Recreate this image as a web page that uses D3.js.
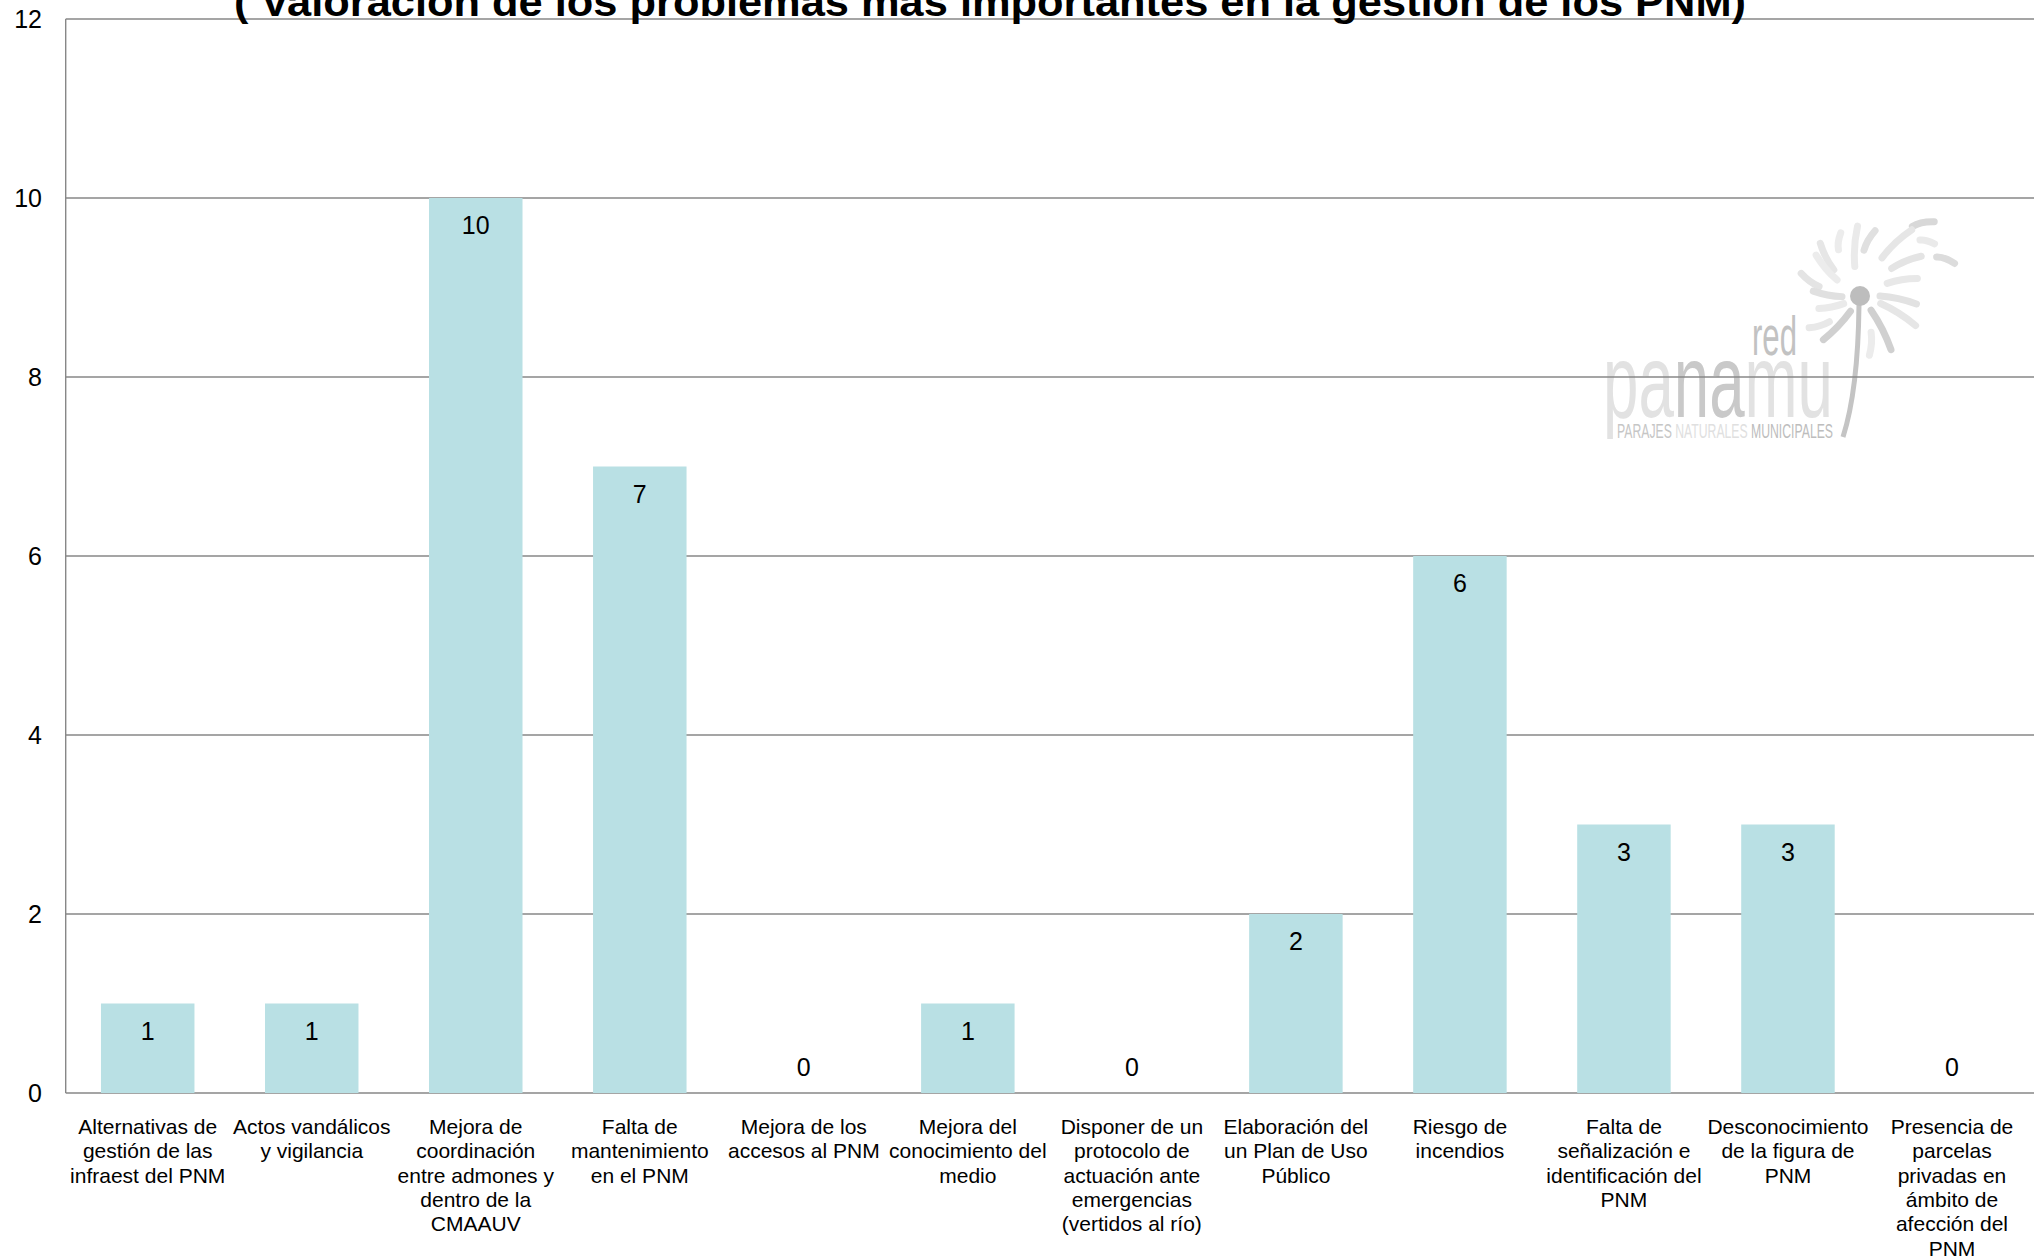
<!DOCTYPE html>
<html>
<head>
  <meta charset="utf-8">
  <script src="https://cdn.jsdelivr.net/npm/d3@7"></script>
  <style>
    body { margin: 0; background: #fff; }
    text { font-family: "Liberation Sans", Arial, sans-serif; }
  </style>
</head>
<body>
<script>
// chart values
var categories = [
  ["Alternativas de", "gestión de las", "infraest del PNM"],
  ["Actos vandálicos", "y vigilancia"],
  ["Mejora de", "coordinación", "entre admones y", "dentro de la", "CMAAUV"],
  ["Falta de", "mantenimiento", "en el PNM"],
  ["Mejora de los", "accesos al PNM"],
  ["Mejora del", "conocimiento del", "medio"],
  ["Disponer de un", "protocolo de", "actuación ante", "emergencias", "(vertidos al río)"],
  ["Elaboración del", "un Plan de Uso", "Público"],
  ["Riesgo de", "incendios"],
  ["Falta de", "señalización e", "identificación del", "PNM"],
  ["Desconocimiento", "de la figura de", "PNM"],
  ["Presencia de", "parcelas", "privadas en", "ámbito de", "afección del", "PNM"]
];
var values = [1, 1, 10, 7, 0, 1, 0, 2, 6, 3, 3, 0];
var yTicks = [0, 2, 4, 6, 8, 10, 12];
var title = "( Valoración de los problemas más importantes en la gestión de los PNM)";

var W = 2038, H = 1260;
var plotL = 65.7, plotR = 2034, plotT = 19, plotB = 1093;

var svg = d3.select("body").append("svg")
  .attr("width", W).attr("height", H);

var x = d3.scaleBand()
  .domain(d3.range(categories.length))
  .range([plotL, plotR])
  .paddingInner(0.43)
  .paddingOuter(0.215);

var y = d3.scaleLinear().domain([0, 12]).range([plotB, plotT]);

// watermark logo (red panamu)
var logo = svg.append("g").attr("class", "logo");
var cx = 1860, cy = 296;
// rays: angle (deg), inner r, outer r, shade
var rays = [
  [-53, 87, 105, "#d8d8d8"], [-60, 44, 84, "#e6e6e6"], [-85, 46, 67, "#e0e0e0"],
  [-100, 30, 70, "#eaeaea"], [-115, 51, 66, "#ececec"], [-27, 86, 100, "#dcdcdc"],
  [-43, 82, 91, "#eaeaea"], [-41, 42, 73, "#e4e4e4"], [-25, 30, 60, "#e8e8e8"],
  [0, 20, 57, "#e2e2e2"], [20, 22, 63, "#e6e6e6"], [52, 18, 62, "#d0d0d0"],
  [73, 38, 60, "#ececec"], [-135, 37, 66, "#e6e6e6"], [-145, 28, 60, "#ececec"],
  [-167, 42, 63, "#e4e4e4"], [178, 18, 47, "#e0e0e0"], [155, 18, 43, "#eaeaea"],
  [140, 40, 60, "#e8e8e8"], [122, 18, 57, "#d0d0d0"]
];
logo.selectAll("path.ray")
  .data(rays)
  .enter().append("path")
  .attr("class", "ray")
  .attr("d", function (d) {
    var a1 = d[0] * Math.PI / 180, a2 = (d[0] + 8) * Math.PI / 180;
    var am = (d[0] + 2) * Math.PI / 180, rm = (d[1] + d[2]) / 2;
    return "M" + (cx + d[1] * Math.cos(a1)) + "," + (cy + d[1] * Math.sin(a1)) +
      "Q" + (cx + rm * Math.cos(am)) + "," + (cy + rm * Math.sin(am)) +
      " " + (cx + d[2] * Math.cos(a2)) + "," + (cy + d[2] * Math.sin(a2));
  })
  .attr("fill", "none")
  .attr("stroke", function (d) { return d[3]; })
  .attr("stroke-width", 7)
  .attr("stroke-linecap", "round");
logo.append("path")
  .attr("d", "M1859,305 Q1858,390 1843,437")
  .attr("fill", "none").attr("stroke", "#c4c4c4").attr("stroke-width", 5);
logo.append("circle")
  .attr("cx", cx).attr("cy", cy).attr("r", 10).attr("fill", "#bdbdbd");
logo.append("text")
  .attr("x", 1752).attr("y", 355)
  .attr("font-size", 56)
  .attr("textLength", 45).attr("lengthAdjust", "spacingAndGlyphs")
  .attr("fill", "#c2c2c2")
  .text("red");
var pan = logo.append("text")
  .attr("x", 1603).attr("y", 417)
  .attr("font-size", 104)
  .attr("textLength", 230).attr("lengthAdjust", "spacingAndGlyphs");
pan.append("tspan").attr("fill", "#e2e2e2").text("pa");
pan.append("tspan").attr("fill", "#c9c9c9").text("na");
pan.append("tspan").attr("fill", "#e2e2e2").text("mu");
var sub = logo.append("text")
  .attr("x", 1617).attr("y", 438)
  .attr("font-size", 21)
  .attr("textLength", 216).attr("lengthAdjust", "spacingAndGlyphs");
sub.append("tspan").attr("fill", "#c6c6c6").text("PARAJES ");
sub.append("tspan").attr("fill", "#e0e0e0").text("NATURALES ");
sub.append("tspan").attr("fill", "#bdbdbd").text("MUNICIPALES");

// gridlines + y labels
svg.append("g")
  .selectAll("line")
  .data(yTicks)
  .enter().append("line")
  .attr("x1", plotL).attr("x2", plotR)
  .attr("y1", function (d) { return y(d); })
  .attr("y2", function (d) { return y(d); })
  .attr("stroke", "#878787")
  .attr("stroke-width", 1.4);

svg.append("g")
  .selectAll("text")
  .data(yTicks)
  .enter().append("text")
  .attr("x", 42)
  .attr("y", function (d) { return y(d) + 9; })
  .attr("text-anchor", "end")
  .attr("font-size", 25)
  .attr("fill", "#000")
  .text(function (d) { return d; });

// bars
svg.append("g")
  .selectAll("rect")
  .data(values)
  .enter().append("rect")
  .attr("x", function (d, i) { return x(i); })
  .attr("y", function (d) { return y(d); })
  .attr("width", x.bandwidth())
  .attr("height", function (d) { return y(0) - y(d); })
  .attr("fill", "#b9e0e4");

// left axis line
svg.append("line")
  .attr("x1", plotL).attr("x2", plotL)
  .attr("y1", plotT).attr("y2", plotB)
  .attr("stroke", "#878787").attr("stroke-width", 1.4);

// value labels
svg.append("g")
  .selectAll("text")
  .data(values)
  .enter().append("text")
  .attr("x", function (d, i) { return x(i) + x.bandwidth() / 2; })
  .attr("y", function (d) { return d === 0 ? y(0) - 17 : y(d) + 36; })
  .attr("text-anchor", "middle")
  .attr("font-size", 25)
  .attr("fill", "#000")
  .text(function (d) { return d; });

// category labels
var cat = svg.append("g")
  .selectAll("text")
  .data(categories)
  .enter().append("text")
  .attr("text-anchor", "middle")
  .attr("font-size", 21)
  .attr("fill", "#000");
cat.selectAll("tspan")
  .data(function (d, i) { return d.map(function (s) { return { s: s, i: i }; }); })
  .enter().append("tspan")
  .attr("x", function (d) { return x(d.i) + x.bandwidth() / 2; })
  .attr("y", function (d, j) { return 1134 + j * 24.3; })
  .text(function (d) { return d.s; });

// title (cut off at the top, as in the source)
svg.append("text")
  .attr("x", 990).attr("y", 16)
  .attr("text-anchor", "middle")
  .attr("font-size", 40)
  .attr("font-weight", "bold")
  .attr("textLength", 1512).attr("lengthAdjust", "spacingAndGlyphs")
  .attr("fill", "#000")
  .text(title);
</script>
</body>
</html>
